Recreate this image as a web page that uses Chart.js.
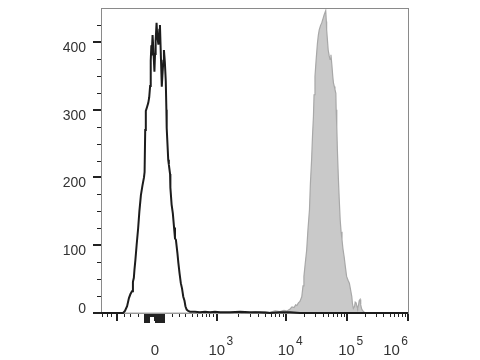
<!DOCTYPE html>
<html><head><meta charset="utf-8">
<script src="https://cdn.jsdelivr.net/npm/chart.js@4/dist/chart.umd.min.js"></script>
<style>html,body{margin:0;padding:0;background:#fff}#wrap{width:480px;height:360px}</style>
</head><body><div id="wrap"><canvas id="c" width="480" height="360"></canvas></div>
<script>
// Histogram data in display channels (0..1000 across the biexponential axis)
const blackChannels = [0,72,78,85,91,96,101,104,107,109,112,116,121,125,130,135,140,142,144,146,150,154,157,160,162,164,165,168,171,174,176,178,181,183,187,190,192,195,198,200,203,205,208,211,213,214,217,219,221,225,226,230,234,238,241,244,249,252,256,260,264,268,272,275,279,284,290,306,322,339,355,371,388,420,453,485,518,550,583,616,648,1000];
const blackCounts   = [0,0,3,10,22,28,32,46,52,64,78,100,125,150,174,188,200,208,270,298,304,310,318,335,372,395,380,410,385,356,382,402,428,410,396,418,425,380,334,350,372,388,370,342,300,273,245,226,219,205,185,160,147,126,110,108,88,74,58,44,36,24,18,10,5,3,2,2,1,2,1,2,1,1,2,1,1,0,1,1,0,0];
const grayChannels = [0,453,459,472,485,502,518,534,550,567,583,596,606,616,622,629,634,638,643,648,654,658,661,665,670,674,679,682,686,689,692,694,697,701,705,708,711,715,719,723,727,732,734,735,738,740,743,746,749,752,755,757,760,762,765,766,768,770,773,776,779,782,785,788,792,796,800,805,809,813,817,819,822,826,828,831,834,836,839,841,844,846,849,853,860,1000];
const grayCounts   = [0,0,2,1,0,2,1,2,1,3,2,4,3,6,9,8,12,11,15,17,24,40,54,72,93,122,152,190,226,262,290,322,349,375,398,410,418,424,428,434,440,446,430,418,400,388,380,374,381,366,349,340,334,330,324,300,275,240,201,168,138,120,108,95,83,68,54,48,44,34,24,14,7,10,16,15,9,7,12,18,20,12,6,3,0,0];

// Axis definition
const xLabelTicks = [176, 377, 603, 800, 1000];
const xLabelBase  = ['0', '10', '10', '10', '10'];
const xLabelExp   = ['', '3', '4', '5', '6'];
const xMajorTicks = [51, 176, 377, 603, 800, 1000];
const xMinorTicks = [3,20,34,75,94,121,231,254,274,298,314,329,342,353,365,445,485,513,535,553,568,581,593,662,697,722,741,756,770,781,791,860,895,920,940,956,969,981,991];
const xZeroLong  = [143,146,149,152,155,179,182,185,188,191,196,199,202,205];
const xZeroShort = [158,161,164,167,170,173];
const yMajorTicks = [0,100,200,300,400];
const yMinorTicks = [25,50,75,125,150,175,225,250,275,325,350,375,425];
const yMax = 450;

const toPts = (xs, ys) => xs.map((x, i) => ({x, y: ys[i]}));

const axisPlugin = {
  id: 'axisPlugin',
  afterDraw(chart) {
    const ctx = chart.ctx, xs = chart.scales.x, ys = chart.scales.y, a = chart.chartArea;
    ctx.save();
    // frame top & right
    ctx.fillStyle = '#8a8a8a';
    ctx.fillRect(a.left, a.top, a.right - a.left + 1, 1);
    ctx.fillRect(a.right, a.top, 1, a.bottom - a.top);
    // x ticks
    ctx.fillStyle = '#222';
    const xt = (v, w, len) => { const p = Math.round(xs.getPixelForValue(v)); ctx.fillRect(p - Math.floor(w/2), a.bottom + 1, w, len); };
    xMinorTicks.forEach(v => xt(v, 1, 3));
    xZeroShort.forEach(v => xt(v, 2, 3));
    xZeroLong.forEach(v => xt(v, 2, 9));
    xMajorTicks.forEach(v => xt(v, 2, 7));
    // y ticks
    const yt = (v, w, len) => { const p = Math.round(ys.getPixelForValue(v)); ctx.fillRect(a.left - len, p - Math.floor(w/2), len, w); };
    yMinorTicks.forEach(v => yt(v, 1, 4));
    yMajorTicks.forEach(v => yt(v, 2, 8));
    // y labels
    ctx.fillStyle = '#333';
    ctx.font = '14px "Liberation Sans", Arial, sans-serif';
    ctx.textAlign = 'right';
    ctx.textBaseline = 'alphabetic';
    yMajorTicks.forEach(v => {
      const p = ys.getPixelForValue(v);
      ctx.fillText(String(v), a.left - 15, v === 0 ? p : p + 10);
    });
    // x labels with superscript exponents
    const baseFont = '15px "Liberation Sans", Arial, sans-serif';
    const expFont = '12px "Liberation Sans", Arial, sans-serif';
    ctx.textAlign = 'left';
    xLabelTicks.forEach((v, i) => {
      const p = xs.getPixelForValue(v);
      ctx.font = baseFont;
      const wb = ctx.measureText(xLabelBase[i]).width;
      ctx.font = expFont;
      const we = xLabelExp[i] ? ctx.measureText(xLabelExp[i]).width + 1.5 : 0;
      let x0 = p - wb / 2;
      if (x0 + wb + we > a.right) x0 = a.right - wb - we;
      ctx.font = baseFont;
      ctx.fillText(xLabelBase[i], x0, 355);
      if (xLabelExp[i]) { ctx.font = expFont; ctx.fillText(xLabelExp[i], x0 + wb + 1.5, 345); }
    });
    ctx.restore();
  }
};

new Chart(document.getElementById('c'), {
  type: 'scatter',
  data: {
    datasets: [
      { label: 'stained', data: toPts(blackChannels, blackCounts), showLine: true, borderColor: '#1c1c1c', borderWidth: 2, pointRadius: 0, fill: false, tension: 0, clip: 4 },
      { label: 'control', data: toPts(grayChannels, grayCounts), showLine: true, borderColor: '#a8a8a8', borderWidth: 1.2, backgroundColor: '#c9c9c9', pointRadius: 0, fill: 'origin', tension: 0, clip: 4 }
    ]
  },
  options: {
    responsive: false, animation: false, devicePixelRatio: 1,
    layout: { padding: { top: 8, right: 72, left: 0, bottom: 0 } },
    plugins: { legend: { display: false }, tooltip: { enabled: false } },
    scales: {
      x: { type: 'linear', min: 0, max: 1000, ticks: { display: false }, grid: { display: false },
           border: { display: true, color: '#8a8a8a', width: 1 }, afterFit(s) { s.height = 47; } },
      y: { type: 'linear', min: 0, max: yMax, ticks: { display: false }, grid: { display: false },
           border: { display: true, color: '#8a8a8a', width: 1 }, afterFit(s) { s.width = 101; } }
    }
  },
  plugins: [axisPlugin]
});
</script></body></html>
